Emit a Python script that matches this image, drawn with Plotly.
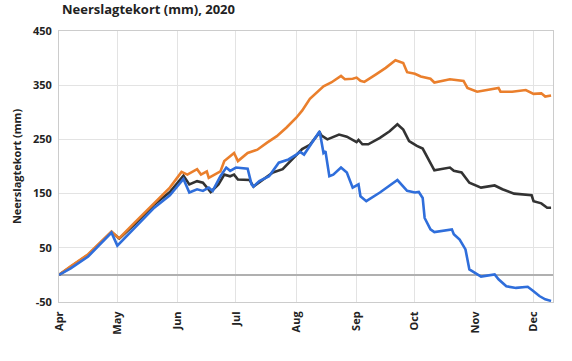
import plotly.graph_objects as go

# ---- data ----
orange_dates = ["2020-04-01","2020-04-07","2020-04-16","2020-04-28","2020-05-01","2020-05-02","2020-05-10","2020-05-20","2020-05-28",
                "2020-06-03","2020-06-06","2020-06-11","2020-06-13","2020-06-16","2020-06-17","2020-06-23","2020-06-25","2020-06-30",
                "2020-07-02","2020-07-07","2020-07-12","2020-07-17","2020-07-22","2020-07-27","2020-08-01","2020-08-04","2020-08-08",
                "2020-08-15","2020-08-19","2020-08-24","2020-08-26","2020-08-30","2020-09-01","2020-09-03","2020-09-05","2020-09-11",
                "2020-09-16","2020-09-21","2020-09-23","2020-09-25","2020-09-27","2020-10-01","2020-10-04","2020-10-09","2020-10-11",
                "2020-10-19","2020-10-26","2020-10-28","2020-11-02","2020-11-08","2020-11-13","2020-11-14","2020-11-20","2020-11-27",
                "2020-12-01","2020-12-05","2020-12-07","2020-12-10"]
orange_vals = [0,16,38,80,70,68,97,133,161,
               190,185,195,185,191,179,191,210,225,
               210,225,231,244,256,272,290,303,325,
               348,355,367,361,362,364,358,356,370,
               382,396,394,391,374,371,366,362,355,
               361,358,345,338,342,345,338,338,341,
               334,335,329,331]

black_dates = ["2020-04-01","2020-04-07","2020-04-16","2020-04-28","2020-05-02","2020-05-10","2020-05-20","2020-05-28",
               "2020-06-04","2020-06-07","2020-06-11","2020-06-14","2020-06-18","2020-06-22","2020-06-25","2020-06-28","2020-06-30",
               "2020-07-02","2020-07-08","2020-07-10","2020-07-15","2020-07-20","2020-07-25","2020-07-30","2020-08-04","2020-08-08",
               "2020-08-13","2020-08-14","2020-08-17","2020-08-23","2020-08-27","2020-09-01","2020-09-02","2020-09-04","2020-09-07",
               "2020-09-13","2020-09-18","2020-09-22","2020-09-25","2020-09-28","2020-10-02","2020-10-05","2020-10-07","2020-10-11",
               "2020-10-19","2020-10-21","2020-10-25","2020-10-29","2020-11-04","2020-11-11","2020-11-15","2020-11-21","2020-11-30",
               "2020-12-01","2020-12-05","2020-12-08","2020-12-10"]
black_vals = [0,15,37,79,67,94,130,153,
              183,167,173,170,153,167,185,182,185,
              176,175,163,176,189,195,213,232,240,
              263,257,250,259,255,245,249,241,241,
              253,265,278,268,247,238,233,219,193,
              198,192,189,170,161,165,158,150,147,
              136,132,124,124]

blue_dates = ["2020-04-01","2020-04-07","2020-04-16","2020-04-28","2020-05-01","2020-05-10","2020-05-20","2020-05-28",
              "2020-06-04","2020-06-07","2020-06-11","2020-06-14","2020-06-17","2020-06-19","2020-06-23","2020-06-26","2020-06-28",
              "2020-07-01","2020-07-07","2020-07-09","2020-07-10","2020-07-13","2020-07-18","2020-07-23","2020-07-28","2020-08-01",
              "2020-08-03","2020-08-05","2020-08-08","2020-08-13","2020-08-15","2020-08-16","2020-08-18","2020-08-20","2020-08-24",
              "2020-08-27","2020-08-30","2020-09-02","2020-09-03","2020-09-06","2020-09-13","2020-09-22","2020-09-27","2020-10-01",
              "2020-10-03","2020-10-05","2020-10-06","2020-10-09","2020-10-11","2020-10-20","2020-10-21","2020-10-24","2020-10-27",
              "2020-10-29","2020-11-04","2020-11-11","2020-11-13","2020-11-17","2020-11-22","2020-11-28","2020-12-01","2020-12-04",
              "2020-12-07","2020-12-10"]
blue_vals = [0,12,34,78,54,88,124,147,
             177,152,158,155,161,155,182,198,192,
             198,196,167,163,173,182,207,213,222,
             227,222,238,265,225,228,182,185,198,
             189,161,167,145,136,152,175,155,152,
             153,142,105,84,79,84,75,65,47,
             10,-3,1,-8,-21,-24,-22,-30,-39,
             -45,-48]

month_ticks = ["2020-04-01","2020-05-01","2020-06-01","2020-07-01","2020-08-01",
               "2020-09-01","2020-10-01","2020-11-01","2020-12-01"]
month_labels = ["Apr","May","Jun","Jul","Aug","Sep","Oct","Nov","Dec"]
y_ticks = [-50, 50, 150, 250, 350, 450]

FONT = "Open Sans"
W, H = 572, 361

fig = go.Figure()
fig.add_trace(go.Scatter(x=black_dates, y=black_vals, mode="lines",
                         line=dict(color="#333333", width=2.6), showlegend=False))
fig.add_trace(go.Scatter(x=orange_dates, y=orange_vals, mode="lines",
                         line=dict(color="#EA7F2C", width=2.6), showlegend=False))
fig.add_trace(go.Scatter(x=blue_dates, y=blue_vals, mode="lines",
                         line=dict(color="#2F6EDB", width=2.6), showlegend=False))

fig.update_layout(
    width=W, height=H,
    margin=dict(l=59, r=19, t=31, b=59),
    paper_bgcolor="white", plot_bgcolor="white",
    font=dict(family=FONT, color="#222222"),
    title=dict(text="<b>Neerslagtekort (mm), 2020</b>", x=62/W, xref="container", xanchor="left",
               y=1-9/H, yref="container", yanchor="middle", font=dict(size=13, family=FONT, color="#222222")),
    xaxis=dict(type="date", range=["2020-04-01", "2020-12-11"], automargin=False,
               tickvals=month_ticks, ticktext=["<b>%s</b>" % m for m in month_labels],
               tickangle=-90, tickfont=dict(size=11, family=FONT, color="#222222"),
               showgrid=True, gridcolor="#e3e3e3", gridwidth=1,
               ticks="outside", ticklen=4, tickcolor="rgba(0,0,0,0)",
               showline=True, linecolor="#cccccc", linewidth=1, mirror=True, zeroline=False),
    yaxis=dict(range=[-50, 450], automargin=False, tickvals=y_ticks, ticktext=["<b>%d</b>" % v for v in y_ticks],
               tickfont=dict(size=11, family=FONT, color="#222222"),
               showgrid=True, gridcolor="#e3e3e3", gridwidth=1,
               ticks="outside", ticklen=4, tickcolor="rgba(0,0,0,0)",
               showline=True, linecolor="#cccccc", linewidth=1, mirror=True,
               zeroline=True, zerolinecolor="#b0b0b0", zerolinewidth=1.5,
               title=dict(text="<b>Neerslagtekort (mm)</b>", font=dict(size=11, family=FONT, color="#222222"), standoff=9)),
)

fig.write_html("out.html", config={"displayModeBar": False},
               post_script="document.body.style.margin='0';")
